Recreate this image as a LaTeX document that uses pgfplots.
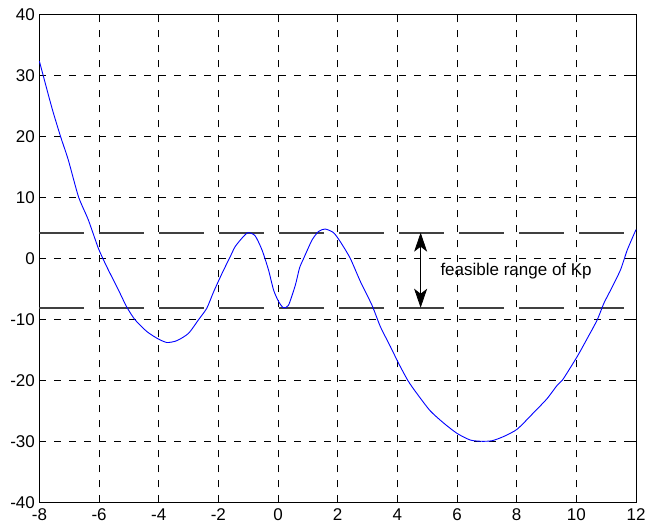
\documentclass[border=0pt]{standalone}
\usepackage{pgfplots}
\pgfplotsset{compat=1.18}
\usepackage{fontspec}
\setmainfont{Liberation Sans}
\usetikzlibrary{arrows.meta}
\begin{document}
\begin{tikzpicture}
\path[use as bounding box] (-39.4pt,-22.7pt) rectangle (605.6pt,502.3pt);
\begin{axis}[
  at={(0pt,0pt)}, anchor=south west,
  width=596.6pt, height=488pt, scale only axis,
  xmin=-8, xmax=12, ymin=-40, ymax=40,
  xtick={-8,-6,...,12}, ytick={-40,-30,...,40},
  grid=major,
  major grid style={black, line width=0.7pt, dash pattern=on 7pt off 8pt},
  tick align=inside, major tick length=5pt,
  tick style={black, line width=0.7pt},
  axis line style={black, line width=0.9pt},
  tick label style={font=\fontsize{17}{19}\selectfont},
  /pgf/number format/assume math mode=true,
  xticklabel style={yshift=-3pt},
  yticklabel style={xshift=-1pt},
  clip=false,
]
\addplot[black!75, line width=1.7pt, dash pattern=on 45pt off 15pt] coordinates {(-8,4.2) (12,4.2)};
\addplot[black!75, line width=1.7pt, dash pattern=on 45pt off 15pt] coordinates {(-8,-8.1) (12,-8.1)};
\addplot[blue, line width=0.9pt, smooth, tension=0.4] coordinates {
(-8,32.3) (-7.70,26.8) (-7.53,23.8) (-7.28,19.8) (-7.03,16.1) (-6.69,10.1)
(-6.36,6.3) (-6.02,1.6) (-5.74,-1.4) (-5.35,-5.2) (-5.07,-8.0) (-4.79,-10.1)
(-4.40,-12.0) (-4.06,-13.1) (-3.73,-13.8) (-3.39,-13.5) (-3.0,-12.3) (-2.67,-10.1)
(-2.39,-8.2) (-2.16,-5.5) (-1.88,-2.5) (-1.60,0.3) (-1.44,1.9) (-1.21,3.3)
(-1.01,4.2) (-0.77,3.7) (-0.54,1.4) (-0.32,-1.9) (-0.15,-5.2) (0.02,-7.1)
(0.18,-8.1) (0.35,-7.7) (0.58,-4.4) (0.72,-1.6) (0.86,0) (1.14,3.0)
(1.36,4.4) (1.58,4.8) (1.86,4.2) (2.09,2.7) (2.42,0) (2.76,-3.8)
(3.15,-7.7) (3.43,-11.2) (3.77,-14.5) (4.04,-17.2) (4.36,-20.1) (4.66,-22.2)
(5.10,-25.0) (5.55,-27.0) (6.0,-28.7) (6.45,-29.8) (6.84,-30.0) (7.18,-29.9)
(7.57,-29.2) (8.02,-28.0) (8.57,-25.3) (9.02,-23.0) (9.36,-20.8) (9.53,-20.0)
(10.03,-16.1) (10.37,-13.1) (10.70,-10.1) (10.92,-7.4) (11.15,-5.2) (11.48,-1.9)
(11.71,1.4) (12.0,4.7)
};
\draw[black, line width=0.8pt, {Stealth[length=19pt,width=13pt,inset=5pt]}-{Stealth[length=19pt,width=13pt,inset=5pt]}]
  (axis cs:4.78,4.2) -- (axis cs:4.78,-8.1);
\node[anchor=base west, inner sep=0pt, font=\fontsize{17}{19}\selectfont] at (axis cs:5.44,-2.8) {feasible range of Kp};
\end{axis}
\end{tikzpicture}
\end{document}
